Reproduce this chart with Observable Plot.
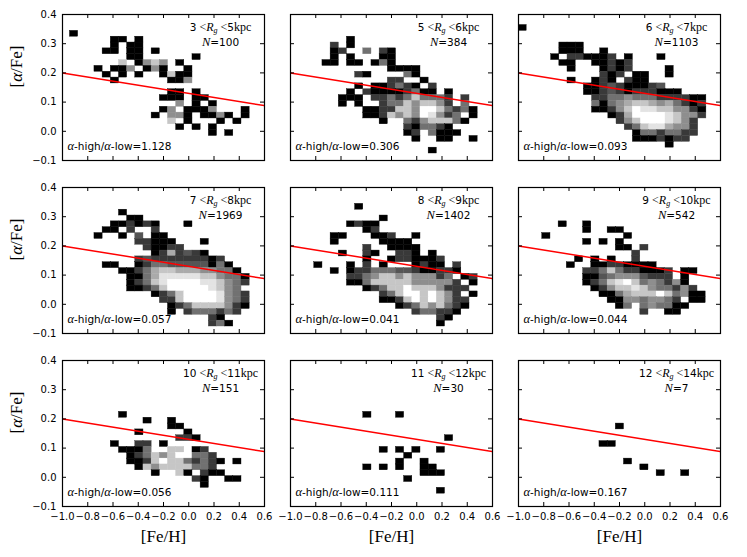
<!DOCTYPE html>
<html><head><meta charset="utf-8">
<script src="https://cdn.jsdelivr.net/npm/d3@7"></script>
<script src="https://cdn.jsdelivr.net/npm/@observablehq/plot@0.6"></script>
<style>body{margin:0;background:#fff;} #chart{width:747px;height:557px;}</style>
</head><body><div id="chart"></div>
<script>
// ---------- data ----------
const xTicks = [-1.0, -0.8, -0.6, -0.4, -0.2, 0.0, 0.2, 0.4, 0.6];
const yTicks = [-0.1, 0.0, 0.1, 0.2, 0.3, 0.4];
const rgLow  = [3, 5, 6, 7, 8, 9, 10, 11, 12];
const rgHigh = [5, 6, 7, 8, 9, 10, 11, 12, 14];
const starCounts = [100, 384, 1103, 1969, 1402, 542, 151, 30, 7];
const ratios = ["1.128", "0.306", "0.093", "0.057", "0.041", "0.044", "0.056", "0.111", "0.167"];
const fitFeH = [-1.0, 0.6];
const fitAlpha = [0.2, 0.088];
// histogram bin grid (left edge of column 0, top edge of row 0, bin sizes)
const binX0 = [-0.941, -0.941, -1.0, -0.941, -0.941, -0.941, -0.941, -0.941, -0.941];
const binY0 = [0.344, 0.344, 0.364, 0.344, 0.344, 0.344, 0.344, 0.344, 0.344];
const binDX = 0.0647, binDY = 0.02;
// cells: one string per row j, "column:level" (level 0 = black ... 9 = white)
const grid3to5 = [
"0:0","5:0 6:0 8:0","5:0 7:0 8:0","4:0 5:0 7:0 8:0 10:0","7:0 8:0 15:0",
"6:7 8:0 9:5 10:7 11:5 13:0","3:0 5:0 6:0 7:5 9:0 10:5 11:0 14:0",
"4:0 6:0 8:0 11:0 12:7 13:0 14:0","5:0 12:0 13:0 14:5","",
"12:0 13:0 15:0","11:0 12:0 13:0 15:0 16:0","13:5 15:0 17:0",
"11:0 12:5 14:0 15:0 16:0 17:5 21:0","10:0 12:5 13:5 14:0 16:0 17:0 18:5 19:0 21:0",
"12:7 14:0 18:0 20:0","13:0 15:0 17:0","17:0 19:0"];
const grid5to6 = [
"","6:0","4:2 6:0","4:0 5:2 8:4 10:2 11:0","4:0 6:0 10:0 11:0",
"3:0 4:0 6:0 7:0 9:0 10:4 11:0","11:0 12:0 13:0 14:0","7:2 8:0 13:4 14:0",
"11:2 12:2 15:0","7:0 9:0 10:0 11:2 12:4 13:2 14:0 16:2",
"6:0 8:2 9:0 10:0 11:0 12:0 13:2 14:4 15:0 16:0 18:0",
"5:0 6:0 7:0 9:2 10:2 11:4 12:2 13:4 14:7 15:4 16:4 17:4 18:2 20:2",
"5:0 7:0 10:2 11:4 12:4 13:7 14:5 15:7 16:7 17:5 18:2 20:4",
"8:0 9:0 10:2 11:2 12:7 13:7 14:5 15:9 16:9 17:7 18:4 19:2 20:4 21:0",
"8:0 9:0 10:2 11:7 12:5 13:7 14:5 15:9 16:8 17:5 18:2 19:4 21:0",
"10:0 13:4 14:2 15:5 16:7 17:7 18:7 19:4 20:0","13:2 14:0 15:4 16:4 17:2 18:0",
"13:0 14:2 16:4 17:0 18:0 19:0","14:0 17:0 18:0 21:0","","16:0"];
const grid6to7 = [
"0:0","","","5:0 6:0 7:0","5:0 6:0 7:0 10:0",
"4:0 6:2 7:2 8:0 9:0 10:0 11:2 13:0 17:0","5:0 6:0 9:0 10:0 11:2 12:0 13:2",
"6:0 10:0 11:2 12:0 13:2 18:0","10:2 11:0 12:2 14:0 15:0 18:0",
"6:0 9:0 10:2 11:0 13:2 14:0 15:0","8:0 9:0 10:2 11:3 12:2 13:0 14:0 15:0 16:2 17:3",
"8:0 9:0 10:2 11:3 12:2 13:0 14:2 15:2 16:2 17:0 18:0 19:0",
"9:2 10:2 11:4 12:4 13:5 14:4 15:4 16:4 17:2 18:2 19:2 20:2 21:0 22:0",
"9:4 10:0 11:4 12:5 13:6 14:7 15:7 16:6 17:5 18:6 19:4 20:2 21:0 22:2",
"9:0 10:0 11:2 12:5 13:7 14:9 15:8 16:8 17:7 18:7 19:5 20:5 21:2 22:0",
"11:0 12:2 13:6 14:9 15:9 16:9 17:9 18:8 19:7 20:5 21:5 22:2",
"12:2 13:5 14:7 15:9 16:9 17:9 18:8 19:7 20:5 21:2",
"13:2 14:4 15:7 16:8 17:8 18:6 19:5 20:5 21:2",
"14:0 15:4 16:4 17:2 18:4 19:4 20:2 21:2","14:0 15:0 16:0 17:2 18:0 19:2 20:2","18:0"];
const grid7to8 = [
"","6:0","7:0 8:0","5:0 6:0 7:2 8:0 9:2 10:0 14:0","4:0 5:0 7:2 10:2",
"3:0 6:0 8:3 10:0 11:0","8:2 9:2 10:0 11:0 12:0 16:0","9:2 10:0 11:0 12:2 13:2",
"10:0 11:2 12:6 13:2 14:3 15:2 16:0","8:2 9:3 10:2 11:2 12:2 13:2 14:2 15:2 16:2 17:0 18:2",
"4:0 5:0 8:0 9:2 10:4 11:4 12:3 13:3 14:3 15:3 16:3 17:0 18:4 19:0",
"6:0 7:0 8:2 9:4 10:6 11:7 12:7 13:6 14:6 15:6 16:5 17:5 18:4 19:4 20:0",
"7:0 8:0 9:4 10:6 11:8 12:8 13:8 14:8 15:8 16:7 17:7 18:5 19:4 20:4 21:0",
"7:0 8:2 9:4 10:7 11:8 12:9 13:9 14:9 15:9 16:8 17:8 18:7 19:5 20:4 21:2",
"7:0 8:0 9:2 10:4 11:7 12:9 13:9 14:9 15:9 16:9 17:8 18:7 19:5 20:4",
"10:0 11:2 12:4 13:7 14:9 15:9 16:9 17:9 18:8 19:5 20:4 21:2",
"11:2 12:2 13:7 14:9 15:9 16:9 17:9 18:8 19:5 20:4 21:2",
"12:0 13:2 14:4 15:7 16:7 17:7 18:7 19:5 20:2 21:0",
"12:0 14:2 15:4 16:4 17:4 18:2 19:4 20:2","17:2 18:0","17:2 18:4 19:0"];
const grid8to9 = [
"7:0","","10:0","6:0 7:2 8:0 9:0","8:0 9:2","4:0 5:0 9:0 10:0 11:2 14:0",
"4:0 10:0 11:0 12:0 13:0","8:2 11:0 12:0 13:0 14:0","5:0 8:2 9:0 12:2 13:2 14:0 16:0",
"8:0 11:0 12:2 13:2 14:0 15:0 16:0 17:2","2:0 6:0 8:2 10:0 14:0 15:2 16:0 17:0 19:2",
"4:0 6:0 7:2 8:2 9:4 10:4 11:4 12:3 13:3 14:2 15:0 16:0 17:2 18:2 19:0",
"6:2 7:2 8:4 9:5 10:7 11:7 12:5 13:7 14:5 15:5 16:5 17:2 18:4 20:0 21:2",
"6:0 7:0 8:4 9:7 10:7 11:7 12:7 13:7 14:5 15:5 16:5 17:5 18:5 19:2 21:0",
"8:0 9:2 10:4 11:7 12:7 13:9 14:7 15:7 16:7 17:5 18:2 19:2 20:2",
"10:2 11:4 12:7 13:9 14:9 15:7 16:9 17:7 18:5 19:2 21:0",
"10:0 11:0 12:2 13:7 14:9 15:7 16:9 17:7 18:5 19:2 20:2",
"12:0 13:2 14:4 15:7 16:5 17:7 18:4 19:2 20:0","14:2 15:4 16:4 17:2 18:2 19:0","17:2 18:0","17:0"];
const grid9to10 = [
"","","","4:0 7:0","7:0 10:0 11:0","2:0 12:0","7:0 9:0 11:0","11:0 12:0 14:2","13:2",
"6:0 8:0 10:0 13:2","5:0 8:0 9:0 10:2 11:2 12:0 13:0 14:0 15:0",
"7:2 8:2 9:4 10:7 11:4 12:2 13:2 14:0 15:0 16:0 17:2 19:0 20:0",
"7:0 8:0 9:3 10:4 11:5 12:5 13:5 14:3 15:2 16:2 17:2 19:0",
"7:0 8:2 9:4 10:7 11:8 12:9 13:7 14:4 15:5 16:4 17:2 18:5 19:0",
"8:0 9:2 10:5 11:7 12:7 13:8 14:7 15:5 16:4 17:4 18:2 19:5 20:2",
"9:0 10:0 11:4 12:6 13:7 14:7 15:7 16:9 17:7 18:4 19:5 20:0 21:0",
"10:0 11:0 12:5 13:5 14:4 15:5 16:5 17:4 18:2 20:0 21:0",
"11:0 12:4 14:4 15:5 16:4 17:4 18:0 19:0","14:2 17:0 18:0"];
const grid10to11 = [
"","","","","","","6:0","9:0 12:0","12:0 13:0","8:0 14:0","13:2 14:2 15:0",
"5:0 8:2 9:2 11:0","6:0 7:0 8:0 9:4 12:7 13:7 15:0 16:2",
"7:0 8:2 9:4 10:7 11:5 12:7 13:9 14:9 15:4 16:4 17:2",
"7:0 8:0 9:2 10:7 11:9 12:7 13:7 14:4 15:2 16:4 17:2 18:0 20:0",
"8:0 9:7 10:5 11:7 12:7 13:7 14:7 15:4 16:4 17:2","10:0 13:7 14:0 16:2 17:0 18:0",
"15:2 16:0 19:0 20:0","16:0"];
const grid11to12 = [
"","","","","","","8:0 12:0","","","","18:0","","10:0 12:0 14:0 17:0","13:0",
"12:0 15:0","8:0 10:0 12:0 15:0 16:0","15:0 16:0 17:0","13:0","","17:0"];
const grid12to14 = [
"","","","","","","","","11:0","","","9:0 10:0","","","12:0","14:0","16:0 19:0"];
const grids = [grid3to5, grid5to6, grid6to7, grid7to8, grid8to9, grid9to10, grid10to11, grid11to12, grid12to14];

// ---------- build tables ----------
const panels = d3.range(9).map(p => ({p, fx: p % 3, fy: Math.floor(p / 3)}));
const cells = [];
grids.forEach((rows, p) => rows.forEach((row, j) => {
  if (!row) return;
  row.split(" ").forEach(s => {
    const [k, v] = s.split(":").map(Number);
    cells.push({fx: p % 3, fy: Math.floor(p / 3),
      x1: binX0[p] + k * binDX, x2: binX0[p] + (k + 1) * binDX,
      y2: binY0[p] - j * binDY, y1: binY0[p] - (j + 1) * binDY, level: v});
  });
}));
const fit = fitFeH.map((x, i) => ({feh: x, alpha: fitAlpha[i]}));
const yLabelRows = [0, 1, 2].map(r => ({fx: 0, fy: r}));
const xLabelCols = [0, 1, 2].map(c => ({fx: c, fy: 2}));

const PW = 202, PH = 146, TK = 4;
const fmt = d3.format(".1f");
const chart = Plot.plot({
  width: 747, height: 557,
  marginLeft: 62, marginRight: 27, marginTop: 14, marginBottom: 51,
  style: {fontFamily: "DejaVu Sans", fontSize: "10px", background: "white", color: "black"},
  x: {domain: [-1, 0.6]},
  y: {domain: [-0.1, 0.4]},
  fx: {domain: [0, 1, 2], paddingInner: 26 / 228, paddingOuter: 0, axis: null},
  fy: {domain: [0, 1, 2], paddingInner: 27 / 173, paddingOuter: 0, axis: null},
  color: {type: "linear", domain: [0, 9], range: ["black", "white"]},
  marks: [
    Plot.rect(cells, {x1: "x1", x2: "x2", y1: "y1", y2: "y2", fx: "fx", fy: "fy",
      fill: "level", stroke: "level", strokeWidth: 0.4, clip: true}),
    Plot.line(fit, {x: "feh", y: "alpha", stroke: "red", strokeWidth: 1.5, clip: true}),
    Plot.tickX(xTicks, {x: d => d, insetTop: PH - TK, stroke: "black"}),
    Plot.tickX(xTicks, {x: d => d, insetBottom: PH - TK, stroke: "black"}),
    Plot.tickY(yTicks, {y: d => d, insetRight: PW - TK, stroke: "black"}),
    Plot.tickY(yTicks, {y: d => d, insetLeft: PW - TK, stroke: "black"}),
    Plot.frame({stroke: "black", strokeWidth: 1.2}),
    Plot.axisX({ticks: xTicks, tickSize: 0, tickPadding: 6, tickFormat: fmt, label: null, fontSize: 10}),
    Plot.axisY({ticks: yTicks, tickSize: 0, tickPadding: 6, tickFormat: fmt, label: null, fontSize: 10}),
    Plot.text(panels, {fx: "fx", fy: "fy", text: d => `${rgLow[d.p]} < Rg <${rgHigh[d.p]}kpc`,
      frameAnchor: "top", dx: 57, dy: 9, textAnchor: "middle", fontSize: 10.5}),
    Plot.text(panels, {fx: "fx", fy: "fy", text: d => `N=${starCounts[d.p]}`,
      frameAnchor: "top", dx: 57, dy: 24, textAnchor: "middle", fontSize: 10.5}),
    Plot.text(panels, {fx: "fx", fy: "fy", text: d => `α-high/α-low=${ratios[d.p]}`,
      frameAnchor: "bottom-left", dx: 5, dy: -11, textAnchor: "start", fontSize: 10.5}),
    Plot.text(yLabelRows, {fx: "fx", fy: "fy", text: () => "[α/Fe]", frameAnchor: "left",
      dx: -46, rotate: -90, fontSize: 17}),
    Plot.text(xLabelCols, {fx: "fx", fy: "fy", text: () => "[Fe/H]", frameAnchor: "bottom",
      dy: 35, fontSize: 17})
  ]
});
document.getElementById("chart").appendChild(chart);

// ---------- rich text (math-style parts) ----------
const SANS = "DejaVu Sans", SERIF = "Liberation Serif";
function setParts(el, parts) {
  while (el.firstChild) el.removeChild(el.firstChild);
  for (const pt of parts) {
    const t = document.createElementNS("http://www.w3.org/2000/svg", "tspan");
    t.textContent = pt.s;
    t.setAttribute("font-family", pt.f || SANS);
    if (pt.i) t.setAttribute("font-style", "italic");
    if (pt.z) t.setAttribute("font-size", pt.z);
    if (pt.dy) t.setAttribute("dy", pt.dy);
    el.appendChild(t);
  }
}
chart.querySelectorAll("text").forEach(el => {
  const s = el.textContent;
  let m;
  if ((m = s.match(/^(\d+) < Rg <(\d+)kpc$/))) {
    setParts(el, [{s: m[1]}, {s: " <", f: SERIF, z: "12px"}, {s: "R", f: SERIF, i: 1, z: "12px"},
      {s: "g", f: SERIF, i: 1, z: "8px", dy: "2.5"}, {s: " <", f: SERIF, z: "12px", dy: "-2.5"},
      {s: m[2]}, {s: "kpc", f: SERIF, z: "12px"}]);
  } else if ((m = s.match(/^N=(\d+)$/))) {
    setParts(el, [{s: "N", f: SERIF, i: 1, z: "12.5px"}, {s: "=" + m[1]}]);
  } else if ((m = s.match(/^α-high\/α-low=(.*)$/))) {
    setParts(el, [{s: "α", f: SERIF, i: 1, z: "12.5px"}, {s: "-high/"}, {s: "α", f: SERIF, i: 1, z: "12.5px"}, {s: "-low=" + m[1]}]);
  } else if (s === "[α/Fe]") {
    setParts(el, [{s: "[", f: SERIF}, {s: "α", f: SERIF, i: 1}, {s: "/Fe]", f: SERIF}]);
  } else if (s === "[Fe/H]") {
    setParts(el, [{s: "[Fe/H]", f: SERIF}]);
  }
});
</script>
</body></html>
